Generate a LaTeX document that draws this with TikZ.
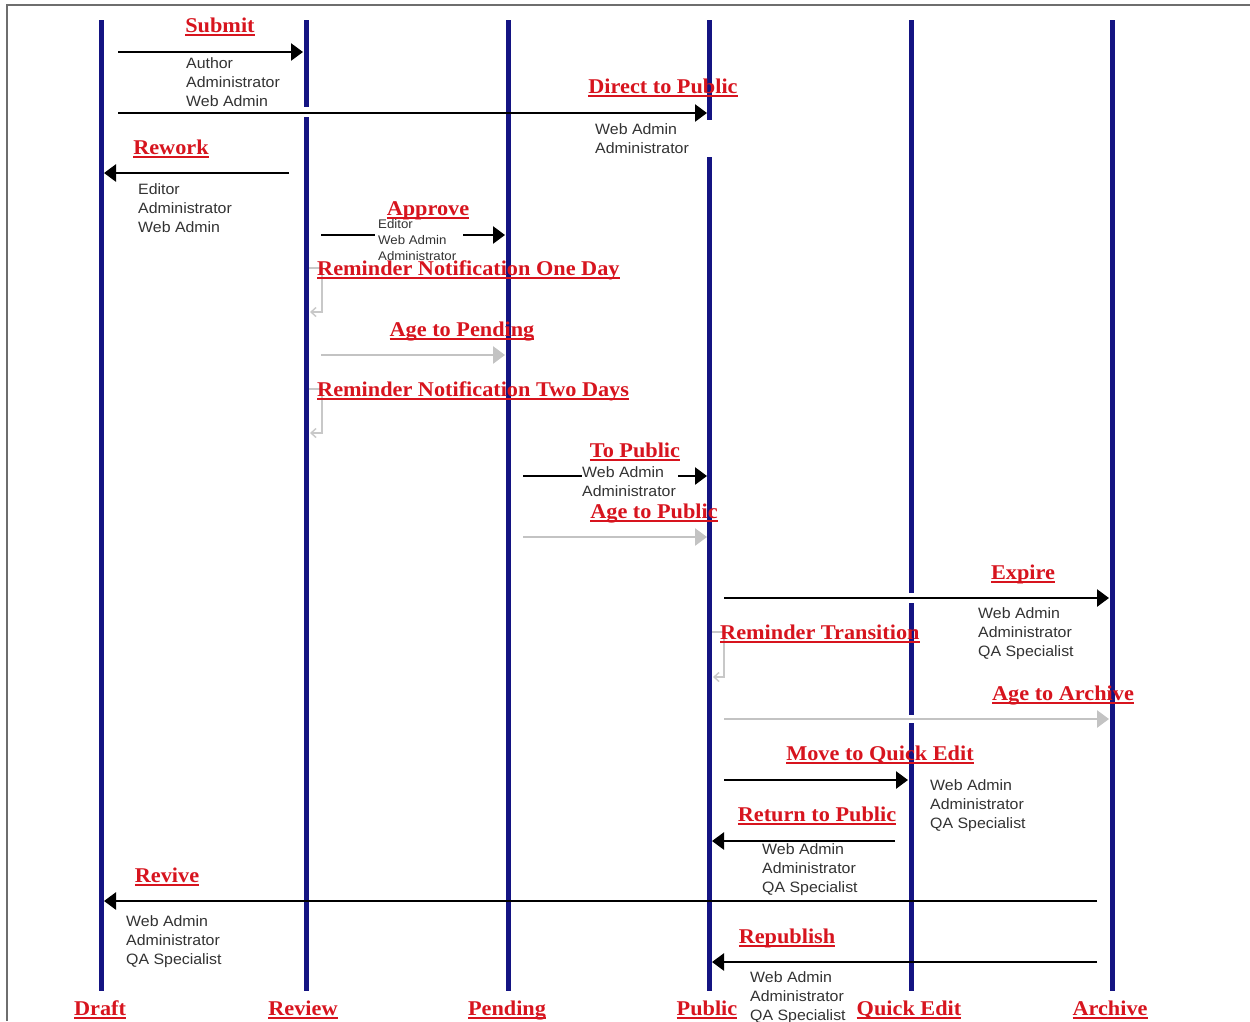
\documentclass[tikz,border=0pt]{standalone}
\usepackage{fontspec}
\setmainfont[FakeStretch=1.06]{Liberation Sans}
\newfontfamily\lblfont[FakeStretch=1.06]{Liberation Serif}
\usetikzlibrary{arrows.meta}

\definecolor{lifeblue}{RGB}{20,20,130}
\definecolor{lblred}{RGB}{215,20,30}
\definecolor{agegray}{RGB}{195,195,195}
\definecolor{loopgray}{RGB}{200,200,200}
\definecolor{framegray}{RGB}{110,110,110}
\newsavebox\ulbox
\newcommand\redul[1]{\sbox\ulbox{#1}\rlap{\color{lblred}\rule[-3.5pt]{\wd\ulbox}{1.4pt}}\usebox\ulbox}

\tikzset{
  lifeline/.style={draw=lifeblue, line width=5pt},
  msg/.style={draw=black, line width=2.6pt, -{Triangle[length=12pt,width=17pt]}},
  msgpart/.style={draw=black, line width=2.6pt},
  agemsg/.style={draw=agegray, line width=2.6pt, -{Triangle[length=12pt,width=17pt]}},
  loopmsg/.style={draw=loopgray, line width=1.4pt, -{Straight Barb[length=5pt,width=9pt]}},
  lbl/.style={text=lblred, font=\lblfont\bfseries\fontsize{21}{24}\selectfont, inner sep=0pt, anchor=base},
  lblw/.style={lbl, anchor=base west},
  roles/.style={text=black!80, font=\fontsize{15}{19.3}\selectfont, align=left, inner sep=0pt, anchor=north west},
  smallroles/.style={roles, font=\fontsize{12.5}{16}\selectfont},
}

\begin{document}
\begin{tikzpicture}[x=1pt, y=-1pt]
\useasboundingbox (0,0) rectangle (1250,1021);
\fill[white] (0,0) rectangle (1250,1021);
\draw[framegray, line width=1.3pt] (7,1021) -- (7,5) -- (1250,5);

% lifelines
\coordinate (dT) at (101,20);  \coordinate (dB) at (101,991);
\coordinate (rT) at (306,20);  \coordinate (rG1) at (306,107); \coordinate (rG2) at (306,117); \coordinate (rB) at (306,991);
\coordinate (pT) at (508,20);  \coordinate (pB) at (508,991);
\coordinate (uT) at (709,20);  \coordinate (uG1) at (709,120); \coordinate (uG2) at (709,157); \coordinate (uB) at (709,991);
\coordinate (qT) at (911,20);  \coordinate (qG1) at (911,593); \coordinate (qG2) at (911,603); \coordinate (qG3) at (911,715); \coordinate (qG4) at (911,723); \coordinate (qB) at (911,991);
\coordinate (aT) at (1112,20); \coordinate (aB) at (1112,991);

\draw[lifeline] (dT) -- (dB);
\draw[lifeline] (rT) -- (rG1);
\draw[lifeline] (rG2) -- (rB);
\draw[lifeline] (pT) -- (pB);
\draw[lifeline] (uT) -- (uG1);
\draw[lifeline] (uG2) -- (uB);
\draw[lifeline] (qT) -- (qG1);
\draw[lifeline] (qG2) -- (qG3);
\draw[lifeline] (qG4) -- (qB);
\draw[lifeline] (aT) -- (aB);

% message end points
\coordinate (sub1) at (118,52);   \coordinate (sub2) at (303,52);
\coordinate (dir1) at (118,113);  \coordinate (dir2) at (707,113);
\coordinate (rew1) at (289,173);  \coordinate (rew2) at (104,173);
\coordinate (app1) at (321,235);  \coordinate (app2) at (375,235);
\coordinate (app3) at (463,235);  \coordinate (app4) at (505,235);
\coordinate (agp1) at (321,355);  \coordinate (agp2) at (505,355);
\coordinate (tp1) at (523,476);   \coordinate (tp2) at (582,476);
\coordinate (tp3) at (678,476);   \coordinate (tp4) at (707,476);
\coordinate (atp1) at (523,537);  \coordinate (atp2) at (707,537);
\coordinate (exp1) at (724,598);  \coordinate (exp2) at (1109,598);
\coordinate (ata1) at (724,719);  \coordinate (ata2) at (1109,719);
\coordinate (mqe1) at (724,780);  \coordinate (mqe2) at (908,780);
\coordinate (ret1) at (895,841);  \coordinate (ret2) at (712,841);
\coordinate (rev1) at (1097,901); \coordinate (rev2) at (104,901);
\coordinate (rep1) at (1097,962); \coordinate (rep2) at (712,962);
% self loops
\coordinate (l1a) at (309,268); \coordinate (l1b) at (322,268); \coordinate (l1c) at (322,312); \coordinate (l1d) at (310,312);
\coordinate (l2a) at (309,389); \coordinate (l2b) at (322,389); \coordinate (l2c) at (322,433); \coordinate (l2d) at (310,433);
\coordinate (l3a) at (712,632); \coordinate (l3b) at (724,632); \coordinate (l3c) at (724,677); \coordinate (l3d) at (713,677);

\draw[msg] (sub1) -- (sub2);
\draw[msg] (dir1) -- (dir2);
\draw[msg] (rew1) -- (rew2);
\draw[msgpart] (app1) -- (app2);
\draw[msg] (app3) -- (app4);
\draw[agemsg] (agp1) -- (agp2);
\draw[msgpart] (tp1) -- (tp2);
\draw[msg] (tp3) -- (tp4);
\draw[agemsg] (atp1) -- (atp2);
\draw[msg] (exp1) -- (exp2);
\draw[agemsg] (ata1) -- (ata2);
\draw[msg] (mqe1) -- (mqe2);
\draw[msg] (ret1) -- (ret2);
\draw[msg] (rev1) -- (rev2);
\draw[msg] (rep1) -- (rep2);
\draw[loopmsg] (l1a) -- (l1b) -- (l1c) -- (l1d);
\draw[loopmsg] (l2a) -- (l2b) -- (l2c) -- (l2d);
\draw[loopmsg] (l3a) -- (l3b) -- (l3c) -- (l3d);

% red labels
\node[lbl] (tSubmit) at (220,32) {\redul{Submit}};
\node[lbl] (tDirect) at (663,93) {\redul{Direct to Public}};
\node[lbl] (tRework) at (171,154) {\redul{Rework}};
\node[lbl] (tApprove) at (428,215) {\redul{Approve}};
\node[lblw] (tRem1) at (317,275) {\redul{Reminder Notification One Day}};
\node[lbl] (tAgePend) at (462,336) {\redul{Age to Pending}};
\node[lblw] (tRem2) at (317,396) {\redul{Reminder Notification Two Days}};
\node[lbl] (tToPub) at (635,457) {\redul{To Public}};
\node[lbl] (tAgePub) at (654,518) {\redul{Age to Public}};
\node[lbl] (tExpire) at (1023,579) {\redul{Expire}};
\node[lblw] (tRemTr) at (720,639) {\redul{Reminder Transition}};
\node[lbl] (tAgeArch) at (1063,700) {\redul{Age to Archive}};
\node[lbl] (tMoveQE) at (880,760) {\redul{Move to Quick Edit}};
\node[lbl] (tReturn) at (817,821) {\redul{Return to Public}};
\node[lbl] (tRevive) at (167,882) {\redul{Revive}};
\node[lbl] (tRepub) at (787,943) {\redul{Republish}};

% state names
\node[lbl] (sDraft) at (100,1015) {\redul{Draft}};
\node[lbl] (sReview) at (303,1015) {\redul{Review}};
\node[lbl] (sPending) at (507,1015) {\redul{Pending}};
\node[lbl] (sPublic) at (707,1015) {\redul{Public}};
\node[lbl] (sQuick) at (909,1015) {\redul{Quick Edit}};
\node[lbl] (sArchive) at (1110,1015) {\redul{Archive}};

% roles
\node[roles] (rSubmit) at (186,57) {Author\\Administrator\\Web Admin};
\node[roles] (rDirect) at (595,123) {Web Admin\\Administrator};
\node[roles] (rRework) at (138,183) {Editor\\Administrator\\Web Admin};
\node[smallroles] (rApprove) at (378,219) {Editor\\Web Admin\\Administrator};
\node[roles] (rToPub) at (582,466) {Web Admin\\Administrator};
\node[roles] (rExpire) at (978,607) {Web Admin\\Administrator\\QA Specialist};
\node[roles] (rMoveQE) at (930,779) {Web Admin\\Administrator\\QA Specialist};
\node[roles] (rReturn) at (762,843) {Web Admin\\Administrator\\QA Specialist};
\node[roles] (rRevive) at (126,915) {Web Admin\\Administrator\\QA Specialist};
\node[roles] (rRepub) at (750,971) {Web Admin\\Administrator\\QA Specialist};
\end{tikzpicture}
\end{document}
